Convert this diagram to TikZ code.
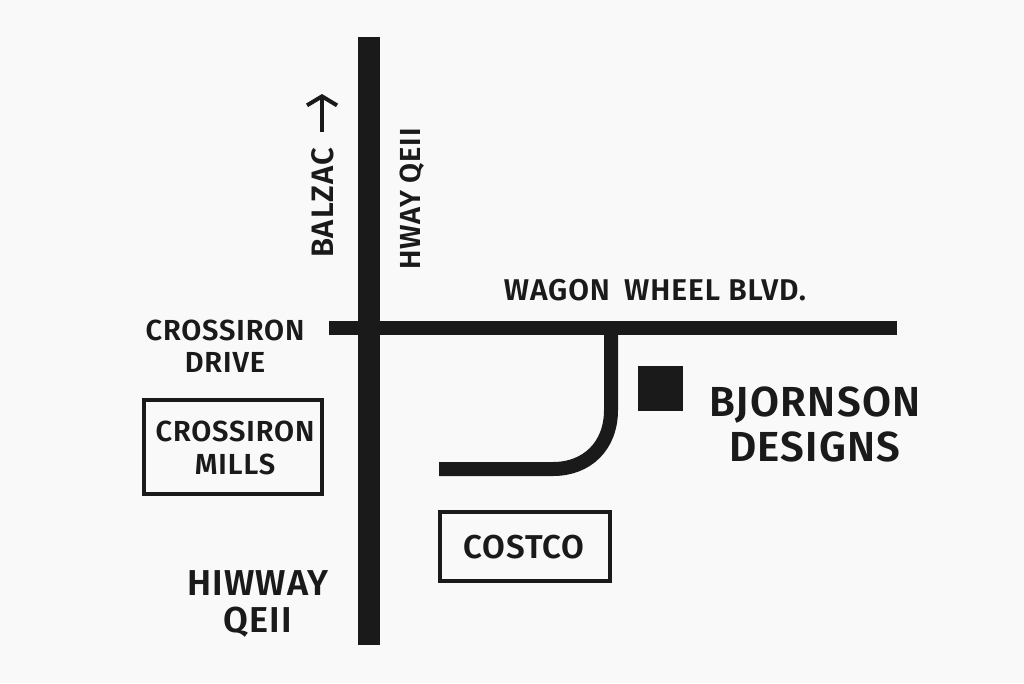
\documentclass[tikz,border=0pt]{standalone}
\usepackage{fontspec}
\setmainfont{Fira Sans}[BoldFont={Fira Sans SemiBold},LetterSpace=3]
\usetikzlibrary{positioning,arrows.meta}
\definecolor{ink}{HTML}{1A1A1A}
\definecolor{paper}{HTML}{F9F9F9}
\begin{document}
\begin{tikzpicture}[x=1pt,y=-1pt,
    road/.style={line width=#1, draw=ink},
    place/.style={rectangle, draw=ink, line width=4pt, inner sep=0pt},
    tag/.style={align=center, text=ink, inner sep=0pt, font=\bfseries\fontsize{#1}{#1}\selectfont},
    tag/.default=29]
    \fill[paper] (0,0) rectangle (1024,683);
    \useasboundingbox (0,0) rectangle (1024,683);

    \coordinate (HwyTop) at (369,37);
    \coordinate (HwyEnd) at (369,645);
    \coordinate (WagonStart) at (329,327.5);
    \coordinate (WagonEnd) at (897,327.5);
    \coordinate (RampTop) at (611,327.5);
    \coordinate (RampEnd) at (439,469);
    \coordinate (ArrowEnd) at (322,94);
    \coordinate (ArrowStart) at (322,132);

    \draw[road=22pt] (HwyTop) -- (HwyEnd);
    \draw[road=14pt] (WagonStart) -- (WagonEnd);
    \draw[road=14pt] (RampTop) -- (611,410) .. controls (611,446) and (587,469) .. (553,469) -- (RampEnd);
    \draw[-{Straight Barb[length=9pt,width=30pt]},ink,line width=4pt] (ArrowStart) -- (ArrowEnd);

    \node[fill=ink, minimum size=45pt, inner sep=0pt] (Shop) at (660.5,388) {};

    \node[place, minimum width=178pt, minimum height=94pt] (Mills) at (233,446.5) {};
    \node[place, minimum width=170pt, minimum height=69pt] (Costco) at (524.5,546) {};

    \node[tag] (MillsText) at (235,447.5) {CROSSIRON\\[4pt]MILLS};
    \node[tag=33] (CostcoText) at (524,547) {COSTCO};
    \node[tag=42] (ShopText) at (815,424) {BJORNSON\\[3pt]DESIGNS};
    \node[tag=30] (WagonText) at (655,290) {WAGON\hspace{6pt} WHEEL BLVD.};
    \node[tag] (DriveText) at (225,346) {CROSSIRON\\[3pt]DRIVE};
    \node[tag=36] (HiwayText) at (258,604) {HIWWAY\\[1pt]QEII};
    \node[tag=31, rotate=90] (BalzacText) at (323,203) {BALZAC};
    \node[tag, rotate=90] (QeiiText) at (412,199) {HWAY QEII};
\end{tikzpicture}
\end{document}
